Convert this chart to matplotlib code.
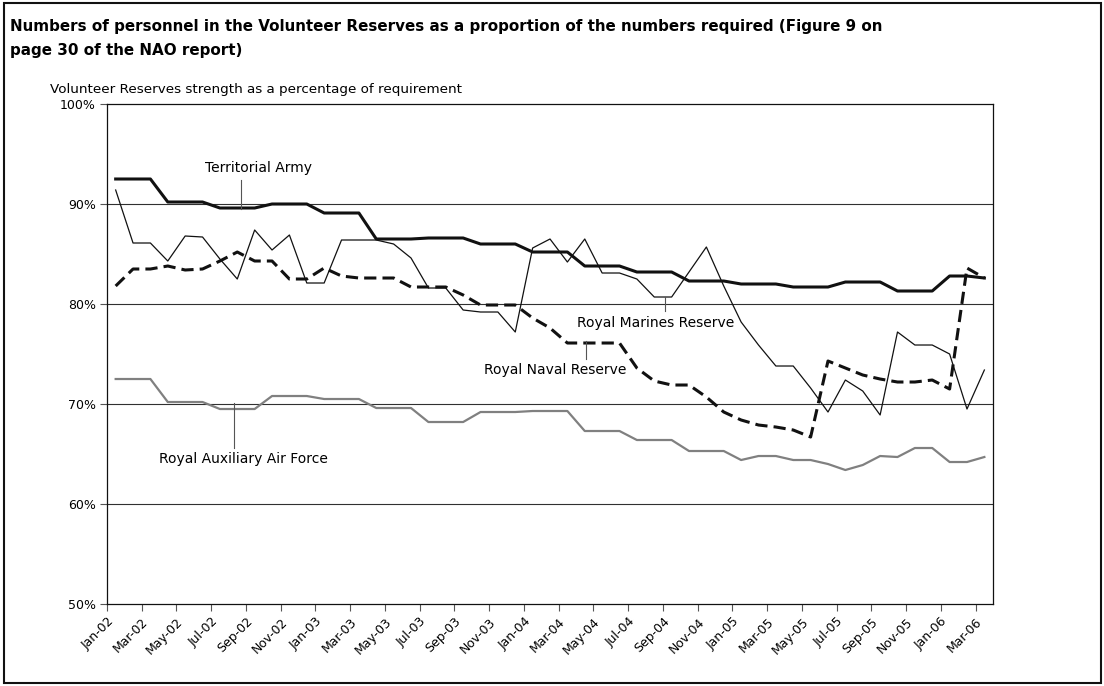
import numpy as np
import matplotlib
matplotlib.use("Agg")
import matplotlib.pyplot as plt
from matplotlib.patches import Rectangle

# monthly readings, Jan-02 .. Mar-06
months = []
for yr in range(2, 7):
    for m in ["Jan", "Feb", "Mar", "Apr", "May", "Jun", "Jul", "Aug", "Sep", "Oct", "Nov", "Dec"]:
        months.append(f"{m}-{yr:02d}")
months = months[:51]

territorial_army = [
    92.5, 92.5, 92.5, 90.2, 90.2, 90.2, 89.6, 89.6, 89.6, 90.0, 90.0, 90.0,
    89.1, 89.1, 89.1, 86.5, 86.5, 86.5, 86.6, 86.6, 86.6, 86.0, 86.0, 86.0,
    85.2, 85.2, 85.2, 83.8, 83.8, 83.8, 83.2, 83.2, 83.2, 82.3, 82.3, 82.3,
    82.0, 82.0, 82.0, 81.7, 81.7, 81.7, 82.2, 82.2, 82.2, 81.3, 81.3, 81.3,
    82.8, 82.8, 82.6,
]
royal_marines = [
    91.4, 86.1, 86.1, 84.3, 86.8, 86.7, 84.5, 82.5, 87.4, 85.4, 86.9, 82.1,
    82.1, 86.4, 86.4, 86.4, 86.0, 84.6, 81.6, 81.6, 79.4, 79.2, 79.2, 77.2,
    85.6, 86.5, 84.2, 86.5, 83.1, 83.1, 82.5, 80.7, 80.7, 83.2, 85.7, 81.8,
    78.2, 75.9, 73.8, 73.8, 71.6, 69.2, 72.4, 71.3, 68.9, 77.2, 75.9, 75.9,
    75.0, 69.5, 73.4,
]
royal_naval = [
    81.8, 83.5, 83.5, 83.8, 83.4, 83.5, 84.3, 85.2, 84.3, 84.3, 82.5, 82.5,
    83.6, 82.8, 82.6, 82.6, 82.6, 81.7, 81.7, 81.7, 80.9, 79.9, 79.9, 79.9,
    78.6, 77.6, 76.1, 76.1, 76.1, 76.1, 73.6, 72.3, 71.9, 71.9, 70.7, 69.2,
    68.4, 67.9, 67.7, 67.4, 66.7, 74.3, 73.6, 72.9, 72.5, 72.2, 72.2, 72.4,
    71.5, 83.6, 82.6,
]
raaf = [
    72.5, 72.5, 72.5, 70.2, 70.2, 70.2, 69.5, 69.5, 69.5, 70.8, 70.8, 70.8,
    70.5, 70.5, 70.5, 69.6, 69.6, 69.6, 68.2, 68.2, 68.2, 69.2, 69.2, 69.2,
    69.3, 69.3, 69.3, 67.3, 67.3, 67.3, 66.4, 66.4, 66.4, 65.3, 65.3, 65.3,
    64.4, 64.8, 64.8, 64.4, 64.4, 64.0, 63.4, 63.9, 64.8, 64.7, 65.6, 65.6,
    64.2, 64.2, 64.7,
]

# points sit mid-month on a date axis
x = np.arange(len(months)) + 0.5

fig = plt.figure(figsize=(11.04, 6.86), dpi=100)
ax = fig.add_axes([0.0969, 0.1195, 0.8026, 0.7289])

for v in [60, 70, 80, 90]:
    ax.axhline(v, color="#303030", lw=0.8, zorder=1)

ax.plot(x, raaf, color="#808080", lw=1.6, zorder=3)
ax.plot(x, royal_naval, color="#111111", lw=2.2, dashes=(4, 2), zorder=4)
ax.plot(x, royal_marines, color="#111111", lw=0.9, zorder=5)
ax.plot(x, territorial_army, color="#111111", lw=2.2, zorder=6)

ax.set_xlim(0, 51)
ax.set_ylim(50, 100)
ax.set_yticks([50, 60, 70, 80, 90, 100])
ax.set_yticklabels([f"{v}%" for v in [50, 60, 70, 80, 90, 100]], fontsize=9)
ax.set_xticks(np.arange(0, 51, 2))
ax.set_xticklabels(months[::2], rotation=45, ha="right", rotation_mode="anchor", fontsize=9)
ax.tick_params(axis="both", direction="out", length=5, width=0.8, color="#555555", pad=3)
for s in ax.spines.values():
    s.set_color("#111111")
    s.set_linewidth(0.9)

# series labels with leader lines
def label(text, tx, ty, lx, ly0, ly1):
    ax.plot([lx, lx], [ly0, ly1], color="#555555", lw=0.8, zorder=7)
    ax.text(tx, ty, text, ha="center", va="center", fontsize=10, zorder=8)

label("Territorial Army", 8.7, 93.6, 7.7, 89.5, 92.4)
label("Royal Auxiliary Air Force", 7.85, 64.5, 7.3, 70.1, 65.6)
label("Royal Naval Reserve", 25.8, 73.4, 27.6, 76.3, 74.5)
label("Royal Marines Reserve", 31.6, 78.1, 32.1, 80.7, 79.3)

fig.text(50 / 1104, 1 - 89 / 686, "Volunteer Reserves strength as a percentage of requirement",
         ha="left", va="center", fontsize=9.7)
fig.text(10 / 1104, 1 - 27 / 686,
         "Numbers of personnel in the Volunteer Reserves as a proportion of the numbers required (Figure 9 on",
         ha="left", va="center", fontsize=10.9, fontweight="bold")
fig.text(10 / 1104, 1 - 50 / 686, "page 30 of the NAO report)",
         ha="left", va="center", fontsize=10.9, fontweight="bold")

fig.patches.append(Rectangle((0.004, 0.004), 0.993, 0.991, transform=fig.transFigure,
                             fill=False, edgecolor="#111111", lw=1.5))

fig.savefig("out.png", dpi=100)
